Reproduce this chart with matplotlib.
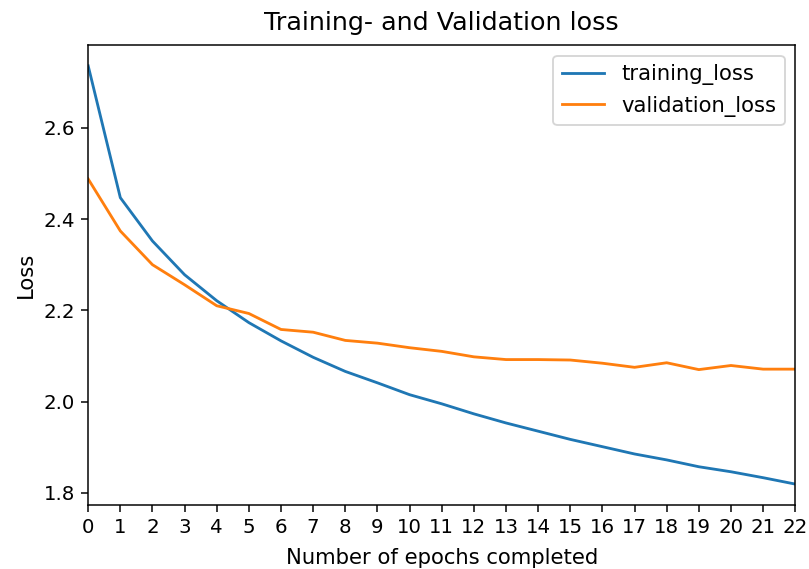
import matplotlib
matplotlib.use("Agg")
import matplotlib.pyplot as plt
import numpy as np

epochs = list(range(23))
training_loss = [2.736, 2.447, 2.352, 2.278, 2.221, 2.173, 2.133, 2.097, 2.066,
                 2.041, 2.015, 1.995, 1.973, 1.953, 1.935, 1.917, 1.901, 1.885,
                 1.872, 1.857, 1.846, 1.833, 1.819]
validation_loss = [2.488, 2.374, 2.300, 2.256, 2.210, 2.193, 2.158, 2.152, 2.134,
                   2.128, 2.118, 2.110, 2.098, 2.092, 2.092, 2.091, 2.084, 2.075,
                   2.085, 2.070, 2.079, 2.071, 2.071]

plt.rcParams['font.size'] = 11.3
fig = plt.figure(figsize=(809/135, 569/135), dpi=135)
ax = fig.add_axes([0.109, 0.1125, 0.874, 0.8085])
ax.plot(epochs, training_loss, label="training_loss")
ax.plot(epochs, validation_loss, label="validation_loss")
ax.set_xlim(0, 22)
ax.set_xticks(epochs)
ax.set_yticks([1.8, 2.0, 2.2, 2.4, 2.6])
ax.tick_params(labelsize=10.5)
ax.set_title("Training- and Validation loss", pad=8)
ax.set_xlabel("Number of epochs completed", labelpad=6)
ax.set_ylabel("Loss")
ax.legend(loc="upper right")
fig.savefig("out.png", dpi=135)
